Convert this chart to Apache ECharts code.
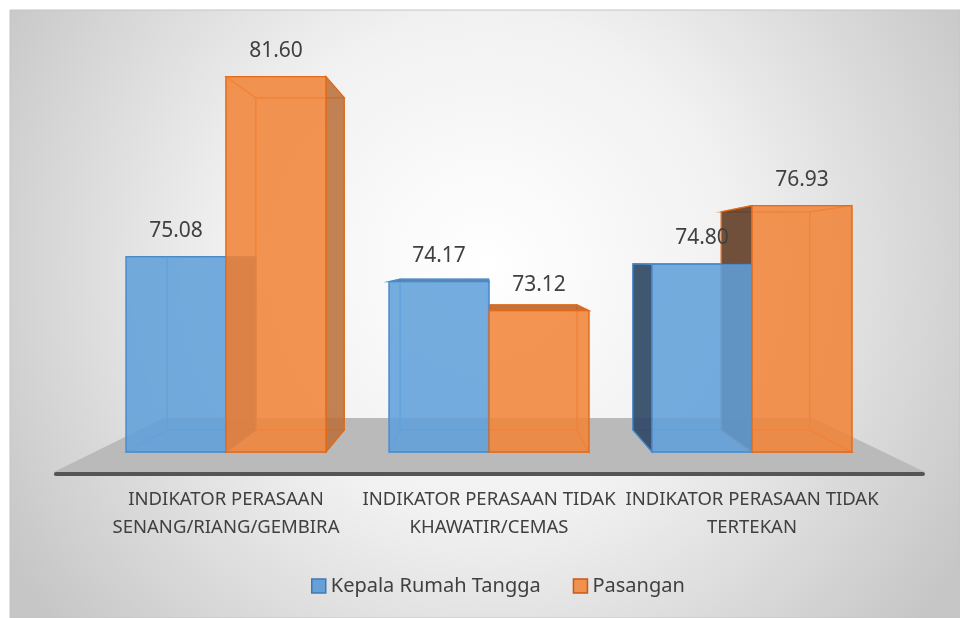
<!DOCTYPE html>
<html>
<head>
<meta charset="utf-8">
<script src="https://cdn.jsdelivr.net/npm/echarts@6/dist/echarts.min.js"></script>
<style>
    html, body { margin: 0; padding: 0; background: #fff; }
    #main { width: 960px; height: 618px; }
</style>
</head>
<body>
<div id="main"></div>
<script>
    const categories = ['INDIKATOR PERASAAN\nSENANG/RIANG/GEMBIRA', 'INDIKATOR PERASAAN TIDAK\nKHAWATIR/CEMAS', 'INDIKATOR PERASAAN TIDAK\nTERTEKAN']
    const kepalaRumahTangga = [75.08, 74.17, 74.80]
    const pasangan = [81.60, 73.12, 76.93]
    const yMin = 68
    const yMax = 82

    // grid and perspective (vanishing point, depth of the boxes)
    const grid = { left: 94.5, right: 76.5, top: 65.6, bottom: 166 }
    const VP = [485, 260]
    const DEPTH = 0.885

    function proj(p, s) {
        return [VP[0] + (p[0] - VP[0]) * s, VP[1] + (p[1] - VP[1]) * s]
    }

    const blue = {
        front: 'rgba(95,160,218,0.86)', inner: 'rgba(91,155,213,0.06)', line: 'rgba(110,170,225,0.7)',
        edge: '#4A8AC9', leftExt: 'rgba(45,70,100,0.9)', rightExt: 'rgba(60,100,150,0.85)', topExt: 'rgba(70,120,175,0.9)'
    }
    const orange = {
        front: 'rgba(242,132,56,0.86)', inner: 'rgba(240,130,55,0.06)', line: 'rgba(235,120,40,0.7)',
        edge: '#E06C1C', leftExt: 'rgba(95,58,35,0.88)', rightExt: 'rgba(185,110,55,0.85)', topExt: 'rgba(190,100,40,0.9)'
    }

    function boxRenderer(side, c) {
        return function (params, api) {
            const idx = api.value(0)
            const val = api.value(1)
            const top = api.coord([idx, val])
            const base = api.coord([idx, yMin])
            const w = api.size([1, 0])[0] * 0.38
            const x0 = side < 0 ? top[0] - w : top[0]
            const x1 = x0 + w
            const y0 = top[1]
            const y1 = base[1]
            const f = [[x0, y0], [x1, y0], [x1, y1], [x0, y1]]
            const b = f.map(p => proj(p, DEPTH))
            const poly = (pts, fill, stroke, z2) => ({
                type: 'polygon', z2: z2, shape: { points: pts },
                style: { fill: fill, stroke: stroke, lineWidth: 1.3 }
            })
            const leftExt = VP[0] < x0
            const rightExt = VP[0] > x1
            const topExt = VP[1] > y0 ? false : true
            return {
                type: 'group',
                children: [
                    poly(b, c.inner, c.line, 1),
                    poly([f[3], f[2], b[2], b[3]], c.inner, c.line, 2),
                    poly([f[0], f[1], b[1], b[0]], topExt ? c.topExt : c.inner, topExt ? c.edge : c.line, topExt ? 3 : 2),
                    poly([f[0], f[3], b[3], b[0]], leftExt ? c.leftExt : c.inner, leftExt ? c.edge : c.line, leftExt ? 3 : 2),
                    poly([f[1], f[2], b[2], b[1]], rightExt ? c.rightExt : c.inner, rightExt ? c.edge : c.line, rightExt ? 3 : 2),
                    poly(f, c.front, c.edge, 6),
                    {
                        type: 'text', z2: 8,
                        style: {
                            text: val.toFixed(2), x: (x0 + x1) / 2, y: y0 - 26,
                            align: 'center', verticalAlign: 'middle',
                            font: '21px "Noto Sans"', fill: '#404040'
                        }
                    }
                ]
            }
        }
    }

    const chart = echarts.init(document.getElementById('main'))

    // floor under the boxes
    const baseY = 618 - grid.bottom
    const fl = [[grid.left, baseY], [960 - grid.right, baseY]]
    const sFront = 1.104
    const sBack = 0.823
    const floorPts = [proj(fl[0], sBack), proj(fl[1], sBack), proj(fl[1], sFront), proj(fl[0], sFront)]

    chart.setOption({
        backgroundColor: '#ffffff',
        textStyle: { fontFamily: 'Noto Sans' },
        animation: false,
        grid: grid,
        graphic: [
            {
                type: 'rect', z: -10, silent: true,
                shape: { x: 10, y: 10, width: 950, height: 608 },
                style: {
                    stroke: '#C4C4C4', lineWidth: 1,
                    fill: new echarts.graphic.RadialGradient(0.5, 0.42, 0.92, [
                        { offset: 0, color: '#FFFFFF' },
                        { offset: 0.45, color: '#F1F1F1' },
                        { offset: 1, color: '#C6C6C6' }
                    ])
                }
            },
            {
                type: 'polygon', z: -5, silent: true,
                shape: { points: floorPts },
                style: { fill: '#BABABA' }
            },
            {
                type: 'rect', z: -5, silent: true,
                shape: { x: floorPts[3][0], y: floorPts[3][1], width: floorPts[2][0] - floorPts[3][0], height: 4, r: 2 },
                style: { fill: '#555555' }
            }
        ],
        legend: {
            top: 571,
            left: 306,
            itemWidth: 14,
            itemHeight: 14,
            itemGap: 32,
            icon: 'rect',
            textStyle: { fontSize: 20, color: '#404040', fontFamily: 'Noto Sans' },
            data: [
                { name: 'Kepala Rumah Tangga', itemStyle: { color: '#65A0D8', borderColor: '#4178B4', borderWidth: 1.5 } },
                { name: 'Pasangan', itemStyle: { color: '#F0914F', borderColor: '#C85A14', borderWidth: 1.5 } }
            ]
        },
        xAxis: {
            type: 'category',
            data: categories,
            axisLine: { show: false },
            axisTick: { show: false },
            axisLabel: {
                interval: 0, margin: 34, fontSize: 18.5, lineHeight: 28,
                color: '#404040', fontFamily: 'Noto Sans'
            }
        },
        yAxis: {
            type: 'value',
            min: yMin,
            max: yMax,
            show: false,
            splitLine: { show: false }
        },
        series: [
            {
                name: 'Kepala Rumah Tangga',
                type: 'custom',
                itemStyle: { color: '#5B9BD5' },
                renderItem: boxRenderer(-1, blue),
                encode: { x: 0, y: 1 },
                data: kepalaRumahTangga.map((v, i) => [i, v])
            },
            {
                name: 'Pasangan',
                type: 'custom',
                itemStyle: { color: '#ED7D31' },
                renderItem: boxRenderer(1, orange),
                encode: { x: 0, y: 1 },
                data: pasangan.map((v, i) => [i, v])
            }
        ]
    })
</script>
</body>
</html>
